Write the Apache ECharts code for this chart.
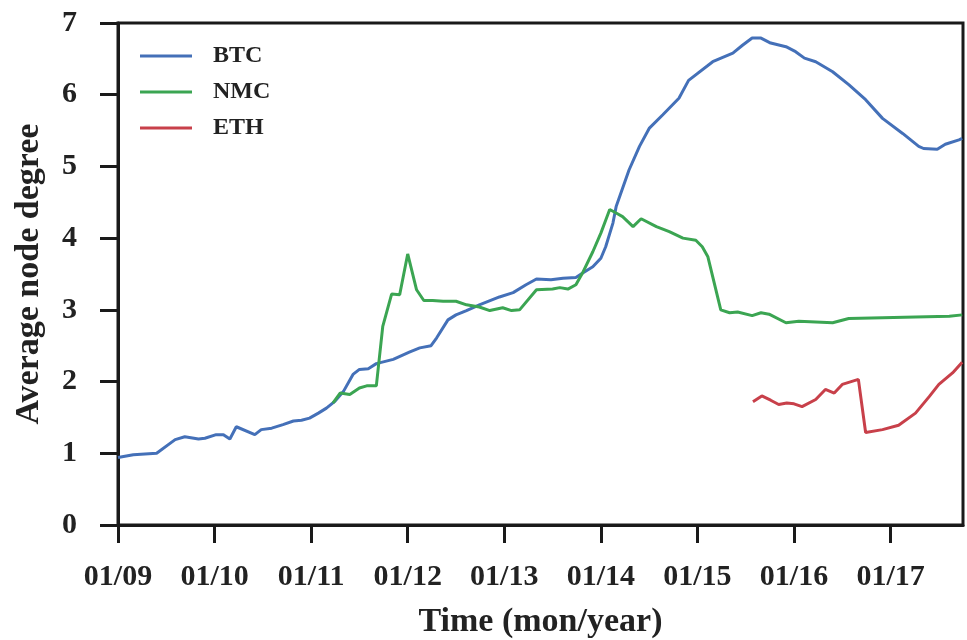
<!DOCTYPE html>
<html>
<head>
<meta charset="utf-8">
<script src="https://cdn.jsdelivr.net/npm/echarts@6/dist/echarts.min.js"></script>
<style>html,body{margin:0;padding:0;background:#fff;}#c{width:967px;height:640px;}</style>
</head>
<body>
<div id="c"></div>
<script>
// x values: months since Jan 2009
const yearTicks = [0, 12, 24, 36, 48, 60, 72, 84, 96];
const yearLabels = ['01/09','01/10','01/11','01/12','01/13','01/14','01/15','01/16','01/17'];

const btcMonths = [0,1.9,4.8,7.1,8.3,10,10.8,12.2,13.1,13.9,14.7,17,17.8,19.1,20.5,21.8,22.8,23.8,24.9,25.9,26.9,28.0,29.2,30.0,31.1,32.1,34.2,36.2,37.5,38.9,39.6,41.0,42.0,43.3,44.9,47.4,49.1,50.7,52.0,53.8,55.3,56.9,57.7,59.0,60.0,60.6,61.5,61.9,63.5,64.8,66.0,67.7,69.7,70.9,73.9,76.4,77.6,78.8,79.9,81.1,83.0,84.2,85.3,86.7,88.8,90.8,92.9,95.0,97.5,99.5,100.1,101.8,102.8,104.5,104.9];
const btcValues = [0.94,0.98,1.0,1.19,1.23,1.2,1.21,1.26,1.26,1.2,1.37,1.26,1.33,1.35,1.40,1.45,1.46,1.49,1.56,1.63,1.72,1.86,2.1,2.17,2.18,2.25,2.31,2.41,2.47,2.5,2.61,2.86,2.93,2.99,3.07,3.18,3.24,3.35,3.43,3.42,3.44,3.45,3.51,3.6,3.72,3.88,4.21,4.44,4.95,5.28,5.53,5.72,5.95,6.2,6.46,6.58,6.69,6.79,6.79,6.72,6.67,6.6,6.51,6.46,6.32,6.14,5.93,5.67,5.46,5.28,5.25,5.24,5.31,5.37,5.39];

const nmcMonths = [26.7,27.6,28.8,30.0,30.9,32.1,32.9,34.0,35.0,36.0,37.1,38.0,39.1,40.4,42.0,43.3,44.9,46.2,47.8,48.9,49.9,52.0,54.0,54.9,55.9,56.9,57.7,59.0,60.0,60.6,61.1,61.9,62.7,64.0,65.0,66.9,68.5,70.2,71.8,72.6,73.3,74.9,76.0,77.0,78.8,79.9,80.9,83.0,84.6,88.8,90.8,95.0,99.1,103.3,104.9];
const nmcValues = [1.70,1.84,1.82,1.91,1.94,1.94,2.77,3.22,3.21,3.78,3.28,3.13,3.13,3.12,3.12,3.07,3.04,2.99,3.03,2.99,3.0,3.28,3.29,3.31,3.29,3.35,3.51,3.81,4.07,4.25,4.40,4.35,4.30,4.16,4.27,4.16,4.09,4.0,3.97,3.88,3.74,3.0,2.96,2.97,2.92,2.96,2.94,2.82,2.84,2.82,2.88,2.89,2.90,2.91,2.93];

const ethMonths = [78.9,80.0,81.1,82.1,83.1,84.0,85.0,86.7,87.9,89.0,90.0,92.0,92.9,95.0,97.0,99.1,100.8,102.0,103.7,104.9];
const ethValues = [1.72,1.80,1.74,1.68,1.70,1.69,1.65,1.75,1.89,1.84,1.96,2.03,1.29,1.33,1.39,1.56,1.79,1.96,2.12,2.27];

const seriesNames = ['BTC','NMC','ETH'];
const seriesColors = ['#4470b8','#3ba552','#c8404a'];

function pairs(xs, ys){ return xs.map((x,i)=>[x, ys[i]]); }

const font = 'Liberation Serif';
const chart = echarts.init(document.getElementById('c'), null, {renderer:'canvas'});
const dataSets = [pairs(btcMonths,btcValues), pairs(nmcMonths,nmcValues), pairs(ethMonths,ethValues)];

chart.setOption({
  backgroundColor:'#fff',
  animation:false,
  grid:{left:118, top:23, width:845, height:502, show:true, borderColor:'#1a1a1a', borderWidth:3, backgroundColor:'transparent', containLabel:false, outerBoundsMode:'none'},
  legend:{
    left:135, top:39, orient:'vertical', itemWidth:52, itemHeight:3, itemGap:12, icon:'rect',
    data: seriesNames,
    textStyle:{fontFamily:font, fontWeight:'bold', fontSize:24, color:'#222', padding:[0,0,0,16], lineHeight:24}
  },
  xAxis:{
    type:'value', min:0, max:105, interval:12,
    name:'Time (mon/year)', nameLocation:'middle', nameGap:80,
    nameTextStyle:{fontFamily:font, fontWeight:'bold', fontSize:34, color:'#222'},
    axisLine:{show:true, onZero:false, lineStyle:{color:'#1a1a1a', width:3}},
    axisTick:{show:true, inside:false, length:18, lineStyle:{color:'#1a1a1a', width:3}, customValues:yearTicks},
    axisLabel:{margin:37, fontFamily:font, fontWeight:'bold', fontSize:30, color:'#222', customValues:yearTicks,
      formatter:function(v){ const i = yearTicks.indexOf(Math.round(v)); return i>=0 ? yearLabels[i] : ''; }},
    splitLine:{show:false}
  },
  yAxis:{
    type:'value', min:0, max:7, interval:1,
    name:'Average node degree', nameLocation:'middle', nameGap:72, nameRotate:90,
    nameTextStyle:{fontFamily:font, fontWeight:'bold', fontSize:34, color:'#222'},
    axisLine:{show:true, lineStyle:{color:'#1a1a1a', width:3}},
    axisTick:{show:true, inside:false, length:18, lineStyle:{color:'#1a1a1a', width:3}},
    axisLabel:{margin:41, fontFamily:font, fontWeight:'bold', fontSize:30, color:'#222'},
    splitLine:{show:false}
  },
  series: seriesNames.map((n,i)=>({
    name:n, type:'line', data:dataSets[i], symbol:'none', showSymbol:false,
    lineStyle:{color:seriesColors[i], width:3}, itemStyle:{color:seriesColors[i]}
  }))
});
</script>
</body>
</html>
